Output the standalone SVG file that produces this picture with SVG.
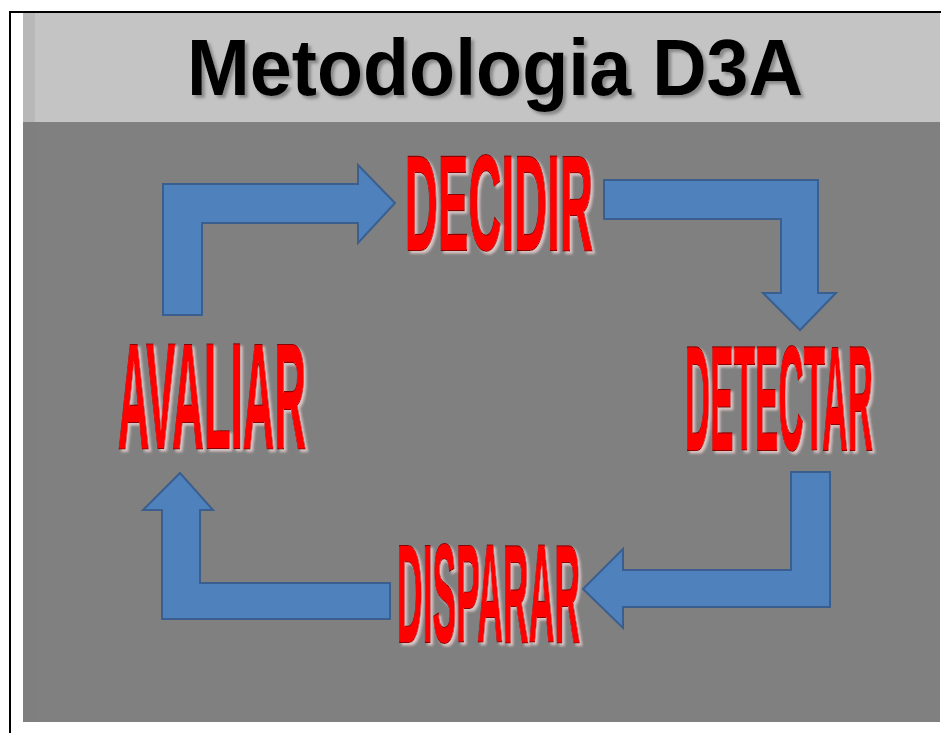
<svg xmlns="http://www.w3.org/2000/svg" width="942" height="733" viewBox="0 0 942 733">
  <defs>
    <filter id="titleShadow" x="-5%" y="-20%" width="110%" height="140%">
      <feDropShadow dx="3" dy="3" stdDeviation="1.5" flood-color="#555555" flood-opacity="0.55"/>
    </filter>
    <filter id="stepGlow" x="-5%" y="-5%" width="115%" height="115%">
      <feDropShadow dx="2.5" dy="2.5" stdDeviation="0.8" flood-color="#f0d4d4" flood-opacity="0.8"/>
    </filter>
  </defs>
  <style>
    .title { font-family: "Liberation Sans", Arial, sans-serif; font-weight: bold; font-size: 80px; fill: #000000; }
    .step { font-family: "Liberation Sans", Arial, sans-serif; font-weight: bold; fill: #ff0000; stroke: #8a0000; stroke-width: 1.6; paint-order: stroke; vector-effect: non-scaling-stroke; }
    .arrow { fill: #4f81bd; stroke: #3a5f8e; stroke-width: 2; stroke-linejoin: miter; }
  </style>

  <!-- page and frame -->
  <rect x="0" y="0" width="942" height="733" fill="#ffffff"/>
  <rect x="23" y="12" width="917" height="110" fill="#c4c4c4"/>
  <rect x="23" y="122" width="917" height="600" fill="#808080"/>
  <rect x="23" y="12" width="12" height="710" fill="#7a7a80" opacity="0.15"/>
  <line x1="9" y1="12" x2="941" y2="12" stroke="#000" stroke-width="2"/>
  <line x1="10" y1="11" x2="10" y2="733" stroke="#000" stroke-width="2"/>

  <!-- heading -->
  <g id="title" filter="url(#titleShadow)">
    <text class="title" transform="translate(187,95) scale(0.943,1)" x="0" y="0">Metodologia D3A</text>
  </g>

  <!-- cycle arrows -->
  <g id="connectors">
    <path class="arrow" d="M163,315 L163,184 L358,184 L358,165 L395,203 L358,243 L358,223 L202,223 L202,315 Z"/>
    <path class="arrow" d="M604,180 L818,180 L818,293 L836,293 L800,330 L763,293 L781,293 L781,219 L604,219 Z"/>
    <path class="arrow" d="M791,472 L830,472 L830,607 L623,607 L623,628 L583,589 L623,549 L623,570 L791,570 Z"/>
    <path class="arrow" d="M390,583 L390,619 L162,619 L162,510 L143,510 L180,473 L213,510 L200,510 L200,583 Z"/>
  </g>

  <!-- steps (tall condensed lettering) -->
  <g id="decidir" filter="url(#stepGlow)">
    <text class="step" transform="translate(405,250) scale(0.339,1)" x="0" y="0" font-size="135">DECIDIR</text>
  </g>
  <g id="detectar" filter="url(#stepGlow)">
    <text class="step" transform="translate(685,450) scale(0.235,1)" x="0" y="0" font-size="149">DETECTAR</text>
  </g>
  <g id="disparar" filter="url(#stepGlow)">
    <text class="step" transform="translate(397,642) scale(0.254,1)" x="0" y="0" font-size="140">DISPARAR</text>
  </g>
  <g id="avaliar" filter="url(#stepGlow)">
    <text class="step" transform="translate(118,448) scale(0.290,1)" x="0" y="0" font-size="151">AVALIAR</text>
  </g>
</svg>
